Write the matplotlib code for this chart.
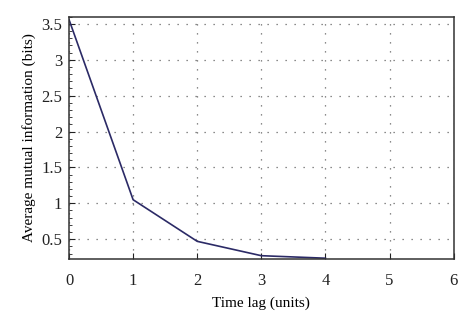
import matplotlib
matplotlib.use("Agg")
import matplotlib.pyplot as plt
from matplotlib.ticker import MultipleLocator

time_lag = [0, 1, 2, 3, 4]
avg_mutual_info = [3.56, 1.05, 0.47, 0.27, 0.235]

plt.rcParams["font.family"] = ["Liberation Serif", "DejaVu Serif"]

fig = plt.figure(figsize=(4.74, 3.28), dpi=100)
ax = fig.add_axes([0.1456, 0.2095, 0.957 - 0.1456, 0.949 - 0.2095])

ax.plot(time_lag, avg_mutual_info, color="#2b2a66", linewidth=1.2)

ax.set_xlim(0, 6)
ax.set_ylim(0.22, 3.6)
ax.set_xticks(range(0, 7))
ax.set_yticks([0.5, 1, 1.5, 2, 2.5, 3, 3.5])
ax.set_yticklabels(["0.5", "1", "1.5", "2", "2.5", "3", "3.5"])
ax.yaxis.set_minor_locator(MultipleLocator(0.1))

# dotted grid, a bit darker like the original
ax.grid(True, which="major", linestyle=(0, (1, 6.2)), color="#666666", linewidth=0.9)
ax.tick_params(which="both", direction="in", labelsize=12, colors="#222222")
ax.tick_params(which="major", length=4)
ax.tick_params(which="minor", length=2)
ax.tick_params(axis="x", pad=10)
ax.tick_params(axis="y", pad=5)

for side in ["left", "bottom", "top", "right"]:
    ax.spines[side].set_color("#333333")
    ax.spines[side].set_linewidth(1.1)

ax.set_xlabel("Time lag (units)", fontsize=11, labelpad=5)
ax.set_ylabel("Average mutual information (bits)", fontsize=11, labelpad=4)

fig.savefig("out.png", dpi=100)
